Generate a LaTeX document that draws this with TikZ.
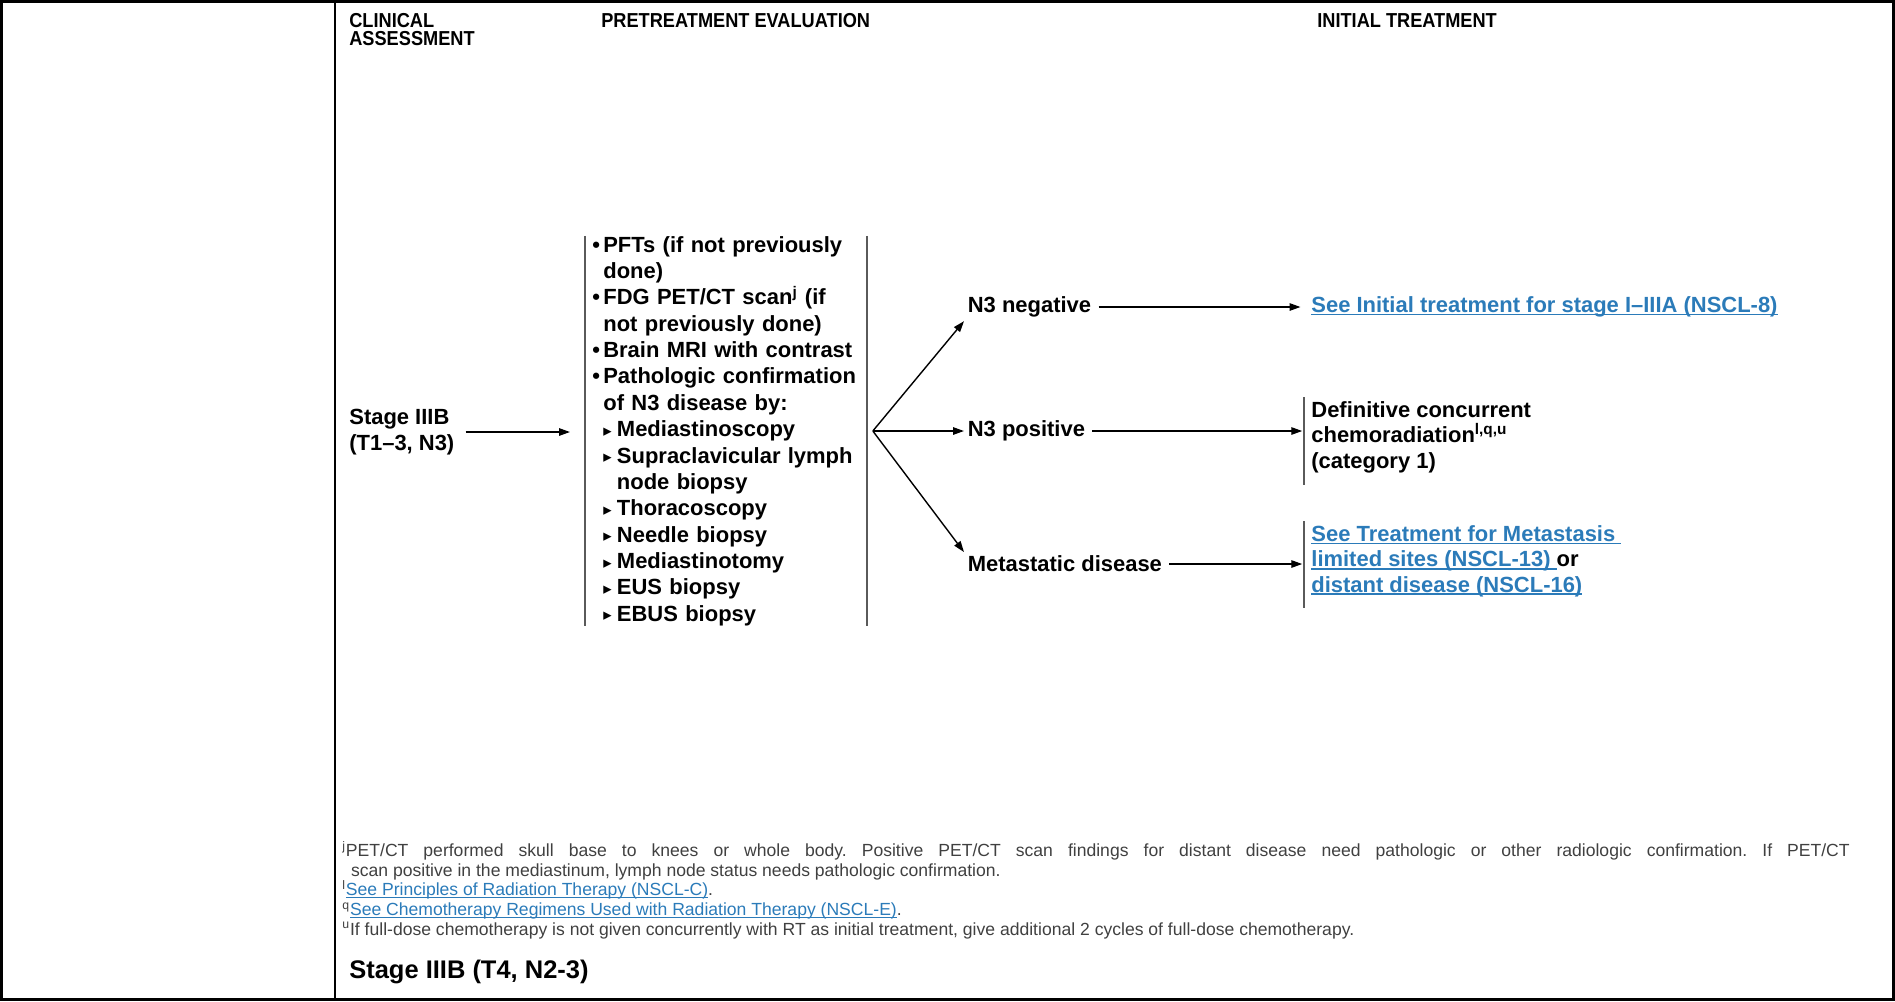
\documentclass[tikz,border=0pt]{standalone}
\usepackage{fontspec}
\setmainfont{Liberation Sans}
\newfontfamily\symfont{DejaVu Sans}
\newfontfamily\headfont{Liberation Sans}[FakeStretch=0.9]
\usepackage{tikz}
\usetikzlibrary{positioning,arrows.meta}
\usepackage{xcolor}
\definecolor{linkblue}{HTML}{2B7BB9}
\definecolor{notegray}{HTML}{404040}
\definecolor{rulegray}{HTML}{5A5A5A}
\frenchspacing

\newcommand{\bul}{\makebox[0.5em][l]{•}}
\newcommand{\ind}{\hspace*{0.5em}}
\newcommand{\tri}{\makebox[0.62em][l]{\raisebox{0.02em}{\symfont\fontsize{9.5}{9.5}\selectfont ▸}}}
\newcommand{\lnk}[1]{\textcolor{linkblue}{\setbox0\hbox{#1}\rlap{\rule[-0.13em]{\wd0}{0.07em}}\box0}}

\begin{document}
\begin{tikzpicture}[x=0.02cm,y=-0.02cm,>={Triangle[length=2.2mm,width=1.5mm]},
  head/.style={font=\headfont\fontsize{11.5}{10.3}\selectfont\bfseries,align=left,inner sep=0pt},
  body/.style={font=\fontsize{12.5}{15}\selectfont\bfseries,align=left,inner sep=2pt},
  note/.style={font=\fontsize{10}{11.2}\selectfont,text=notegray,align=left,inner sep=0pt},
  arr/.style={->,line width=0.8pt},
  bracket/.style={draw=rulegray,line width=0.8pt},
  frame/.style={line width=1.6pt}]
\useasboundingbox (0,0) rectangle (1895,1001);
% table frame
\draw[frame] (1.5,1.5) rectangle (1893.5,999.5);
\draw[frame] (335,1.5) -- (335,999.5);

% column heads
\node[head,anchor=north west] (clin) at (349,13) {CLINICAL\\ASSESSMENT};
\node[head,anchor=north west] (pre) at (601,13) {PRETREATMENT EVALUATION};
\node[head,anchor=north west] (init) at (1317,13) {INITIAL TREATMENT};

\node[body,anchor=west,inner sep=0pt] (stage) at (349,432) {Stage IIIB\\(T1–3, N3)};

\node[body,anchor=west,inner xsep=4pt,inner ysep=0pt,text width=152pt] (eval) at (585,431) {%
\bul PFTs (if not previously\\
\ind done)\\
\bul FDG PET/CT scan\textsuperscript{j} (if\\
\ind not previously done)\\
\bul Brain MRI with contrast\\
\bul Pathologic confirmation\\
\ind of N3 disease by:\\
\ind\tri Mediastinoscopy\\
\ind\tri Supraclavicular lymph\\
\ind\hspace*{0.62em}node biopsy\\
\ind\tri Thoracoscopy\\
\ind\tri Needle biopsy\\
\ind\tri Mediastinotomy\\
\ind\tri EUS biopsy\\
\ind\tri EBUS biopsy};
\draw[bracket] (eval.north west) -- (eval.south west);
\draw[bracket] (eval.north east) -- (eval.south east);
\coordinate (fork) at ([xshift=0.12cm]eval.east);

\node[body,anchor=west] (neg) at (964,307) {N3 negative};
\node[body,anchor=west] (pos) at (964,431) {N3 positive};
\node[body,anchor=west] (meta) at (964,564) {Metastatic disease};

\node[body,anchor=west,inner xsep=4pt] (negtx) at (1304,307) {\lnk{See Initial treatment for stage I–IIIA (NSCL-8)}};
\node[body,anchor=west,inner xsep=4pt,font=\fontsize{12.5}{14.5}\selectfont\bfseries] (deftx) at (1304,437)
  {Definitive concurrent\\chemoradiation\textsuperscript{l,q,u}\\(category 1)};
\node[body,anchor=west,inner xsep=4pt,font=\fontsize{12.5}{14.5}\selectfont\bfseries] (mettx) at (1304,561)
  {\lnk{See Treatment for Metastasis\ }\\\lnk{limited sites (NSCL-13)\ }or\\\lnk{distant disease (NSCL-16)}};
\draw[bracket] (deftx.north west) -- ([yshift=-4.5pt]deftx.south west);
\draw[bracket] (mettx.north west) -- ([yshift=-4.5pt]mettx.south west);

\draw[arr,shorten <=0.22cm,shorten >=0.3cm] (stage.east) -- (eval.west |- stage.east);
\draw[arr] (fork) -- (neg.south west);
\draw[arr] (fork) -- (pos.west);
\draw[arr] (fork) -- (meta.north west);
\draw[arr,shorten <=2pt,shorten >=2pt] (neg.east) -- (negtx.west);
\draw[arr,shorten <=2pt,shorten >=1pt] (pos.east) -- (deftx.west |- pos.east);
\draw[arr,shorten <=2pt,shorten >=1pt] (meta.east) -- (mettx.west |- meta.east);

% footnotes
\node[note,anchor=west] (notes) at (342,890) {%
\makebox[858pt][s]{\textsuperscript{j}PET/CT performed skull base to knees or whole body. Positive PET/CT scan findings for distant disease need pathologic or other radiologic confirmation. If PET/CT}\\
\hspace*{0.5em}scan positive in the mediastinum, lymph node status needs pathologic confirmation.\\
\textsuperscript{l}\lnk{See Principles of Radiation Therapy (NSCL-C)}.\\
\textsuperscript{q}\lnk{See Chemotherapy Regimens Used with Radiation Therapy (NSCL-E)}.\\
\textsuperscript{u}If full-dose chemotherapy is not given concurrently with RT as initial treatment, give additional 2 cycles of full-dose chemotherapy.};

\node[anchor=west,font=\fontsize{14.5}{16}\selectfont\bfseries,inner sep=0pt] (next) at (349,972) {Stage IIIB (T4, N2-3)};
\end{tikzpicture}
\end{document}
